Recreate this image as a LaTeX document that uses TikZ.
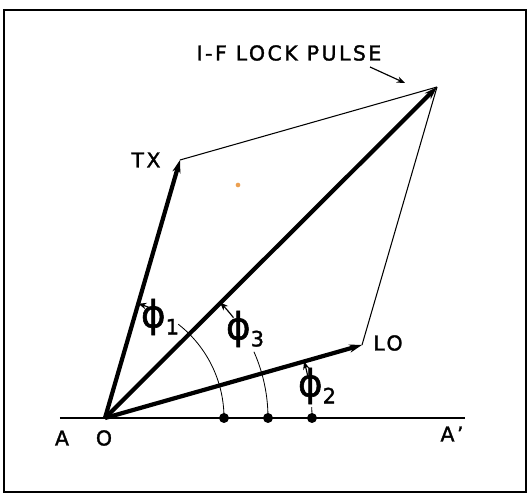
\documentclass[tikz,border=0pt]{standalone}
\usepackage{fontspec}
\setmainfont{DejaVu Sans}
\usetikzlibrary{arrows.meta}
\definecolor{dotorange}{RGB}{236,160,80}

\begin{document}
\begin{tikzpicture}[x=0.03cm,y=0.03cm,
 vec/.style={line width=3.6pt,-{Stealth[length=11pt,width=7pt]}},
 side/.style={line width=0.9pt},
 lbl/.style={font=\fontsize{17.5}{20}\selectfont\addfontfeatures{LetterSpace=12,FakeBold=1.5}},
 ang/.style={font=\fontsize{32}{34}\selectfont\addfontfeatures{FakeBold=1.5}},
 angarc/.style={line width=0.7pt},
 angarrow/.style={line width=1pt,-{Stealth[length=7pt,width=5.5pt]}},
 pt/.style={circle,fill,inner sep=0pt,minimum size=8.5pt}]
\useasboundingbox (-105,-77) rectangle (423,418);
\draw[line width=1.6pt] (-101,-74) rectangle (421,408);

\coordinate (O) at (0,0);
\coordinate (TX) at (75,258);
\coordinate (LO) at (257,73);
\coordinate (IF) at (332,331);
\coordinate (A) at (-45,0);
\coordinate (Ap) at (360,0);

\draw[side] (A) -- (Ap);
\draw[side] (TX) -- (IF);
\draw[side] (LO) -- (IF);
\draw[vec] (O) -- (TX);
\draw[vec] (O) -- (LO);
\draw[vec] (O) -- (IF);

\node[lbl] (al) at (-43,-20) {A};
\node[lbl] (ol) at (-1,-20) {O};
\node[lbl] (apl) at (347,-16) {A'};
\node[lbl] (txl) at (41,258) {TX};
\node[lbl] (lol) at (283,75) {LO};
\node[lbl] (ifl) at (184,365) {I-F LOCK PULSE};
\coordinate (ifs) at (265,351);
\coordinate (ifp) at (300,335);
\draw[angarrow] (ifs) -- (ifp);

\node[pt] (d1) at (119,0) {};
\node[pt] (d3) at (163,0) {};
\node[pt] (d2) at (207,0) {};
\draw[angarc] (d1.center) arc[start angle=0,end angle=52,radius=119];
\draw[angarc] (d3.center) arc[start angle=0,end angle=24,radius=163];
\draw[angarc] (d2.center) arc[start angle=0,end angle=3,radius=207];
\draw[angarrow] (68.6:119) arc[start angle=68.6,end angle=73.8,radius=119];
\draw[angarrow] (38:163) arc[start angle=38,end angle=45.1,radius=163];
\draw[angarrow] (11.5:207) arc[start angle=11.5,end angle=15.9,radius=207];

\node[ang] (p1) at (55,101) {ϕ\lower6pt\hbox{\fontsize{18}{18}\selectfont 1}};
\node[ang] (p3) at (140,89) {ϕ\lower6pt\hbox{\fontsize{18}{18}\selectfont 3}};
\node[ang] (p2) at (212,32) {ϕ\lower6pt\hbox{\fontsize{18}{18}\selectfont 2}};

\node[circle,fill=dotorange,inner sep=0pt,minimum size=4pt] (spot) at (133,233) {};
\end{tikzpicture}
\end{document}
